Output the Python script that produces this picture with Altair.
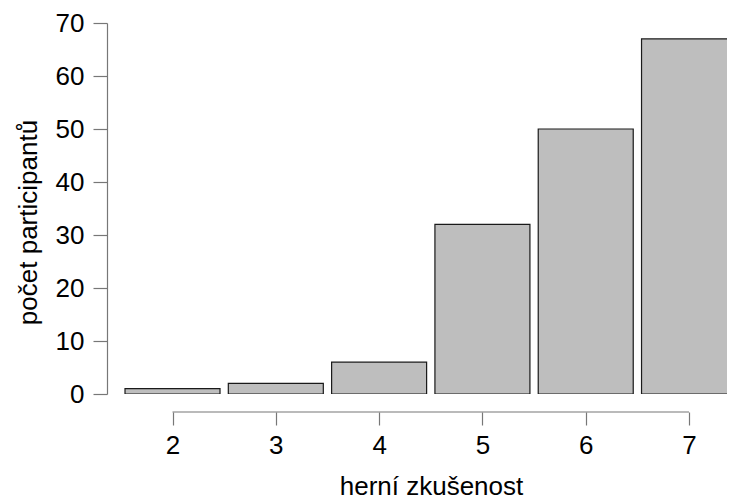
import altair as alt
import pandas as pd

categories = [2, 3, 4, 5, 6, 7]
counts = [1, 2, 6, 32, 50, 67]
y_ticks = [0, 10, 20, 30, 40, 50, 60, 70]

df = pd.DataFrame({"zkusenost": categories, "pocet": counts})
axis_df = pd.DataFrame({"a": [min(categories)], "b": [max(categories)]})

FONT = "Liberation Sans"
FS = 26

xscale = alt.Scale(domain=[1.4143, 7.3191], nice=False, zero=False)
yscale = alt.Scale(domain=[0, 70], nice=False)

bars = alt.Chart(df).mark_bar(
    size=95, fill="#bebebe", stroke="#1a1a1a", strokeWidth=1.2, clip=True
).encode(
    x=alt.X("zkusenost:Q", scale=xscale,
            axis=alt.Axis(values=categories, format="d", domain=False, grid=False,
                          tickSize=13, tickColor="#777", tickWidth=1.2,
                          offset=18, labelPadding=7, labelFontSize=FS,
                          labelFont=FONT, labelColor="black",
                          title="herní zkušenost", titleFont=FONT,
                          titleFontSize=FS, titleFontWeight="normal",
                          titleColor="black", titleBaseline="alphabetic",
                          titleX=324, titleY=82)),
    y=alt.Y("pocet:Q", scale=yscale,
            axis=alt.Axis(values=y_ticks, grid=False, domainColor="#777",
                          domainWidth=1.2, tickColor="#777", tickWidth=1.2,
                          tickSize=14, labelPadding=9, labelFontSize=FS,
                          labelFont=FONT, labelColor="black",
                          title="počet participantů", titleFont=FONT,
                          titleFontSize=FS, titleFontWeight="normal",
                          titleColor="black", titlePadding=14,
                          titleY=199)),
)

xline = alt.Chart(axis_df).mark_rule(color="#777", strokeWidth=1.2).encode(
    x=alt.X("a:Q", scale=xscale),
    x2="b:Q",
    y=alt.value(389),
)

chart = alt.layer(bars, xline).properties(
    width=620, height=371,
    autosize=alt.AutoSizeParams(type="none"),
    padding={"left": 99, "top": 15, "right": 0, "bottom": 102},
).configure_view(stroke=None)

chart.save("out.html", embed_options={"renderer": "svg", "actions": False})
